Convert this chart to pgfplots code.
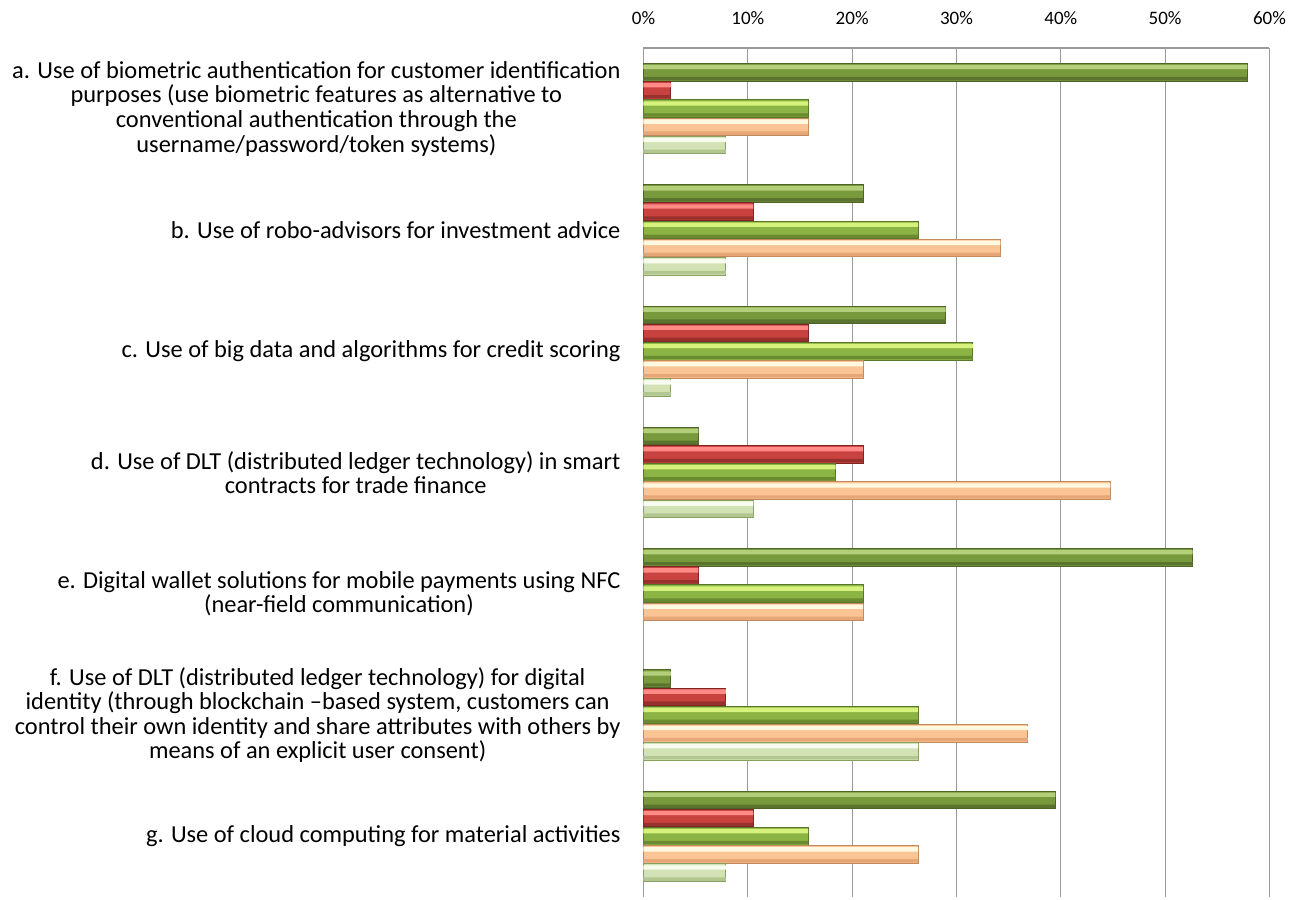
\documentclass[border=0pt]{standalone}
\usepackage{fontspec}
\setmainfont{Carlito}
\usepackage{pgfplots}
\usepackage{pgfplotstable}
\pgfplotsset{compat=1.18}
% bar colours: top highlight, body, lower shade, edge
\definecolor{dgTop}{HTML}{B4CF7A}
\definecolor{dgMid}{HTML}{789A3C}
\definecolor{dgBot}{HTML}{5A7430}
\definecolor{dgEdge}{HTML}{4F6228}
\definecolor{rdTop}{HTML}{FF8A86}
\definecolor{rdMid}{HTML}{C8423F}
\definecolor{rdBot}{HTML}{98302D}
\definecolor{rdEdge}{HTML}{7F2624}
\definecolor{lmTop}{HTML}{D6F27C}
\definecolor{lmMid}{HTML}{8CB444}
\definecolor{lmBot}{HTML}{6A8A30}
\definecolor{lmEdge}{HTML}{5A7628}
\definecolor{orTop}{HTML}{FFF8E0}
\definecolor{orMid}{HTML}{FAC494}
\definecolor{orBot}{HTML}{E6A676}
\definecolor{orEdge}{HTML}{C08A5C}
\definecolor{lgTop}{HTML}{F8FCEE}
\definecolor{lgMid}{HTML}{D2E2B4}
\definecolor{lgBot}{HTML}{B2C690}
\definecolor{lgEdge}{HTML}{8AA060}
\definecolor{gridc}{HTML}{9A9A9A}

% values in percent; c = category row (6 = a at the top, 0 = g)
\pgfplotstableread{
v     c
57.89 6
21.05 5
28.95 4
5.26  3
52.63 2
2.63  1
39.47 0
}\darkgreen
\pgfplotstableread{
v     c
2.63  6
10.53 5
15.79 4
21.05 3
5.26  2
7.89  1
10.53 0
}\red
\pgfplotstableread{
v     c
15.79 6
26.32 5
31.58 4
18.42 3
21.05 2
26.32 1
15.79 0
}\lime
\pgfplotstableread{
v     c
15.79 6
34.21 5
21.05 4
44.74 3
21.05 2
36.84 1
26.32 0
}\peach
\pgfplotstableread{
v     c
7.89  6
7.89  5
2.63  4
10.53 3
26.32 1
7.89  0
}\palegreen

% one bevelled bar series: body, highlight strip on top, shade strip below
\newcommand{\bevelbars}[3]{%
  \addplot[bar shift=#2, bar width=0.145, draw=#3Edge, fill=#3Mid, line width=0.5pt]
    table[x=v, y=c] {#1};
  \addplot[bar shift=#2+0.043, bar width=0.036, draw=none, fill=#3Top, forget plot]
    table[x=v, y=c] {#1};
  \addplot[bar shift=#2-0.052, bar width=0.028, draw=none, fill=#3Bot, forget plot]
    table[x=v, y=c] {#1};
}

\begin{document}
\begin{tikzpicture}
\begin{axis}[
  at={(0,0)}, anchor=south west,
  scale only axis,
  width=313pt, height=424.5pt,
  xbar,
  xmin=0, xmax=60,
  ymin=-0.5, ymax=6.5,
  axis x line*=top,
  axis y line*=left,
  axis line style={draw=gridc, line width=0.6pt},
  xmajorgrids=true,
  major grid style={draw=gridc, line width=0.6pt},
  xtick={0,10,20,30,40,50,60},
  xticklabels={0\%,10\%,20\%,30\%,40\%,50\%,60\%},
  xticklabel style={font=\fontsize{9.5}{11}\selectfont, yshift=8pt},
  ytick={0,1,2,3,4,5,6},
  yticklabels={
    {g. Use of cloud computing for material activities},
    {f. Use of DLT (distributed ledger technology) for digital\\identity (through blockchain –based system, customers can\\control their own identity and share attributes with others by\\means of an explicit user consent)},
    {e. Digital wallet solutions for mobile payments using NFC\\(near-field communication)},
    {d. Use of DLT (distributed ledger technology) in smart\\contracts for trade finance},
    {c. Use of big data and algorithms for credit scoring},
    {b. Use of robo-advisors for investment advice},
    {a. Use of biometric authentication for customer identification\\purposes (use biometric features as alternative to\\conventional authentication through the\\username/password/token systems)},
  },
  yticklabel style={align=center, font=\fontsize{12.2}{12.3}\selectfont, xshift=-8pt},
  major tick length=0pt,
  clip=false,
]
  \bevelbars{\darkgreen}{0.3}{dg}
  \bevelbars{\red}{0.15}{rd}
  \bevelbars{\lime}{0}{lm}
  \bevelbars{\peach}{-0.15}{or}
  \bevelbars{\palegreen}{-0.3}{lg}
\end{axis}
\pgfresetboundingbox
\path (-321.75pt,-1pt) rectangle (330.75pt,448.5pt);
\end{tikzpicture}
\end{document}
